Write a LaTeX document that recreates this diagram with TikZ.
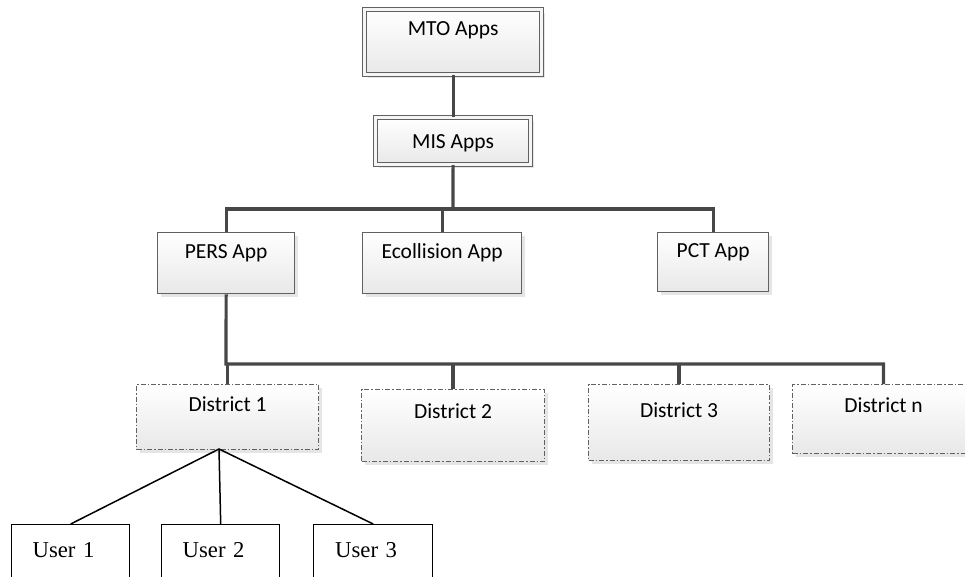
\documentclass[tikz,border=0pt]{standalone}
\usepackage{fontspec}
\setmainfont{Carlito}
\newfontfamily\userfont{Liberation Serif}
\usetikzlibrary{shadows}
\usepackage{xcolor}
\colorlet{mygray}{black!62}
\colorlet{mylinegray}{black!72}
\colorlet{myshadow}{black!10}
\tikzset{
  node base/.style={anchor=north west,inner ysep=0,inner xsep=0,align=center,
    font=\fontsize{21.5}{25}\selectfont,top color=white,bottom color=black!9,
    drop shadow={shadow xshift=3pt,shadow yshift=-3pt,fill=myshadow,opacity=1}},
  node top/.style={node base,draw=mygray,line width=1.2,double=white!96!black,double distance=2.6},
  node app/.style={node base,draw=mygray,line width=1.3},
  node district/.style={node base,draw=mygray,line width=1.1,
    dash pattern=on 5pt off 2pt on 1.5pt off 2pt},
  node user/.style={anchor=north west,draw=black,line width=1.4,fill=white,
    inner ysep=0,inner xsep=21,text width=76,align=left,
    font=\userfont\fontsize{22.7}{27}\selectfont,text height=33,text depth=60},
  connect/.style={line width=3.2,mylinegray},
  connect user/.style={line width=1.5,black}
}
\begin{document}
\begin{tikzpicture}[x=1pt,y=-1pt]
    \useasboundingbox (0,0) rectangle (965,576);
    \clip (0,0) rectangle (965,576);

    \node[node top,minimum width=177,minimum height=65,text height=26,text depth=39] (mto) at (364,9) {MTO Apps};
    \node[node top,minimum width=155,text height=31,text depth=16] (mis) at (375,117) {MIS Apps};

    \node[node app,minimum width=137,text height=26,text depth=35] (pers) at (157,232) {PERS App};
    \node[node app,minimum width=159,text height=26,text depth=35] (ecol) at (362,232) {Ecollision App};
    \node[node app,minimum width=111,text height=25,text depth=34] (pct) at (657,232) {PCT App};

    \node[node district,minimum width=182,text height=27,text depth=38] (d1) at (136,384) {District 1};
    \node[node district,minimum width=183,text height=29,text depth=43] (d2) at (361,389) {District 2};
    \node[node district,minimum width=181,text height=33,text depth=43] (d3) at (588,384) {District 3};
    \node[node district,minimum width=182,text height=28,text depth=41] (dn) at (792,384) {District n};

    \node[node user,minimum width=118] (u1) at (11,524) {User 1};
    \node[node user,minimum width=118] (u2) at (161,524) {User 2};
    \node[node user,minimum width=119] (u3) at (313,524) {User 3};

    \coordinate (bus1) at (453,209);
    \coordinate (bus2) at (226,364);
    \coordinate (fork) at (219,449);

    \draw[connect] (mto.south) -- (mis.north);
    \draw[connect] (mis.south) -- (bus1);
    \draw[connect] (pers.north) |- (bus1) -| (pct.north);
    \draw[connect] (ecol.north) -- (ecol.north |- bus1);

    \draw[connect] (pers.south) -- (bus2) -| (dn.north);
    \foreach \d in {d1,d2,d3}
        \draw[connect] (\d.north) -- (\d.north |- bus2);

    \draw[connect user] (u1.north) -- (fork) -- (u3.north);
    \draw[connect user] (fork) -- (u2.north);
\end{tikzpicture}
\end{document}
